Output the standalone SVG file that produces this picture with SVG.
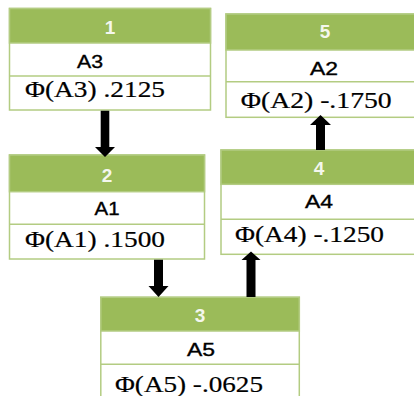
<svg xmlns="http://www.w3.org/2000/svg" width="414" height="396" viewBox="0 0 414 396">
<style>
.box{fill:#ffffff;stroke:#b3cc82;stroke-width:1.5}
.hdr{fill:#9bbb59;stroke:#b3cc82;stroke-width:1.5}
.div{stroke:#b3cc82;stroke-width:1.5}
.num{font-family:"Liberation Sans",Arial,sans-serif;font-weight:bold;font-size:19px;fill:#f4f7ee;text-anchor:middle}
.lbl{font-family:"Liberation Sans",Arial,sans-serif;font-size:17.5px;fill:#000000;stroke:#000000;stroke-width:0.35;text-anchor:middle}
.phi{font-family:"Liberation Serif","Times New Roman",serif;font-size:23.5px;fill:#000000;stroke:#000000;stroke-width:0.2}
.arr{fill:#000000}
</style>
<rect width="414" height="396" fill="#ffffff"/>
<g id="node1">
<rect class="box" x="9.5" y="8.5" width="201" height="101.5"/>
<rect class="hdr" x="9.5" y="8.5" width="201" height="34.5"/>
<line class="div" x1="9.5" y1="76" x2="210.5" y2="76"/>
<text class="num" x="110" y="34">1</text>
<text class="lbl" x="90" y="68.3" textLength="26" lengthAdjust="spacingAndGlyphs">A3</text>
<text class="phi" x="25" y="97.3" textLength="140" lengthAdjust="spacingAndGlyphs">Φ(A3) .2125</text>
</g>
<g id="node2">
<rect class="box" x="9.5" y="155" width="195" height="104"/>
<rect class="hdr" x="9.5" y="155" width="195" height="36.7"/>
<line class="div" x1="9.5" y1="224.3" x2="204.5" y2="224.3"/>
<text class="num" x="107" y="181.7">2</text>
<text class="lbl" x="107" y="215" textLength="25" lengthAdjust="spacingAndGlyphs">A1</text>
<text class="phi" x="25" y="247.3" textLength="140" lengthAdjust="spacingAndGlyphs">Φ(A1) .1500</text>
</g>
<g id="node3">
<rect class="box" x="100.8" y="297.3" width="198.5" height="102"/>
<rect class="hdr" x="100.8" y="297.3" width="198.5" height="33.7"/>
<line class="div" x1="100.8" y1="364.3" x2="299.3" y2="364.3"/>
<text class="num" x="200" y="322.3">3</text>
<text class="lbl" x="201" y="355.7" textLength="28" lengthAdjust="spacingAndGlyphs">A5</text>
<text class="phi" x="115" y="391.5" textLength="148" lengthAdjust="spacingAndGlyphs">Φ(A5) -.0625</text>
</g>
<g id="node4">
<rect class="box" x="221" y="150" width="196" height="104.3"/>
<rect class="hdr" x="221" y="150" width="196" height="34.3"/>
<line class="div" x1="221" y1="219.3" x2="417" y2="219.3"/>
<text class="num" x="319" y="175">4</text>
<text class="lbl" x="319" y="208.3" textLength="28" lengthAdjust="spacingAndGlyphs">A4</text>
<text class="phi" x="235" y="241.7" textLength="149" lengthAdjust="spacingAndGlyphs">Φ(A4) -.1250</text>
</g>
<g id="node5">
<rect class="box" x="226" y="14" width="198" height="103.3"/>
<rect class="hdr" x="226" y="14" width="198" height="36"/>
<line class="div" x1="226" y1="81.7" x2="424" y2="81.7"/>
<text class="num" x="325" y="38.3">5</text>
<text class="lbl" x="324" y="75" textLength="28" lengthAdjust="spacingAndGlyphs">A2</text>
<text class="phi" x="240.7" y="108.3" textLength="151" lengthAdjust="spacingAndGlyphs">Φ(A2) -.1750</text>
</g>
<g id="connectors">
<path class="arr" d="M100.7 110.8 H109.3 V147 H115 L105 157 L95 147 H100.7 Z"/>
<path class="arr" d="M154 259.8 H163 V286 H168.5 L158.5 297 L148.5 286 H154 Z"/>
<path class="arr" d="M246.5 297 H255.5 V260 H260.5 L251 251.5 L241.5 260 H246.5 Z"/>
<path class="arr" d="M316 150 H325 V125 H331 L320.5 115 L310 125 H316 Z"/>
</g>
</svg>
